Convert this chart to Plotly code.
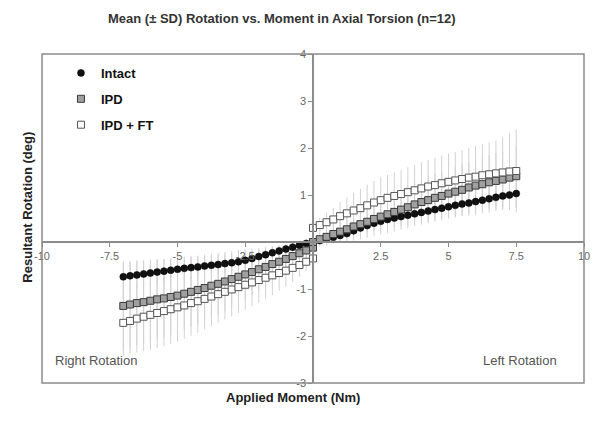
import plotly.graph_objects as go

# Applied moment (Nm): negative loading branch, then positive branch (0 appears twice)
MOMENT = [-7.0, -6.75, -6.5, -6.25, -6.0, -5.75, -5.5, -5.25, -5.0, -4.75,
          -4.5, -4.25, -4.0, -3.75, -3.5, -3.25, -3.0, -2.75, -2.5, -2.25,
          -2.0, -1.75, -1.5, -1.25, -1.0, -0.75, -0.5, -0.25, 0.0,
          0.0, 0.25, 0.5, 0.75, 1.0, 1.25, 1.5, 1.75, 2.0, 2.25,
          2.5, 2.75, 3.0, 3.25, 3.5, 3.75, 4.0, 4.25, 4.5, 4.75,
          5.0, 5.25, 5.5, 5.75, 6.0, 6.25, 6.5, 6.75, 7.0, 7.25, 7.5]

# mean rotation (deg)
INTACT = [-0.74, -0.72, -0.70, -0.68, -0.66, -0.64, -0.62, -0.60, -0.58, -0.56,
          -0.545, -0.53, -0.51, -0.495, -0.48, -0.46, -0.44, -0.42, -0.39, -0.35,
          -0.31, -0.27, -0.23, -0.19, -0.15, -0.11, -0.07, -0.03, 0.0,
          0.0, 0.03, 0.07, 0.10, 0.14, 0.18, 0.24, 0.30, 0.35, 0.40,
          0.44, 0.48, 0.51, 0.54, 0.57, 0.60, 0.63, 0.66, 0.69, 0.72,
          0.75, 0.78, 0.81, 0.83, 0.86, 0.89, 0.92, 0.95, 0.98, 1.00, 1.03]
IPD = [-1.36, -1.33, -1.30, -1.28, -1.25, -1.22, -1.20, -1.17, -1.14, -1.10,
       -1.06, -1.02, -0.98, -0.93, -0.89, -0.84, -0.79, -0.74, -0.69, -0.64,
       -0.58, -0.53, -0.47, -0.42, -0.36, -0.30, -0.24, -0.18, -0.12,
       0.00, 0.06, 0.11, 0.17, 0.22, 0.27, 0.33, 0.38, 0.43, 0.49,
       0.54, 0.59, 0.64, 0.69, 0.74, 0.80, 0.85, 0.89, 0.94, 0.98,
       1.03, 1.07, 1.11, 1.16, 1.20, 1.23, 1.27, 1.30, 1.33, 1.37, 1.40]
IPD_FT = [-1.72, -1.68, -1.63, -1.59, -1.55, -1.51, -1.47, -1.43, -1.39, -1.35,
          -1.30, -1.26, -1.21, -1.16, -1.11, -1.06, -1.01, -0.96, -0.91, -0.86,
          -0.81, -0.76, -0.71, -0.66, -0.61, -0.55, -0.49, -0.42, -0.35,
          0.30, 0.36, 0.42, 0.48, 0.55, 0.61, 0.67, 0.72, 0.78, 0.84,
          0.89, 0.94, 0.98, 1.02, 1.06, 1.10, 1.14, 1.18, 1.21, 1.25,
          1.28, 1.31, 1.34, 1.37, 1.39, 1.42, 1.44, 1.46, 1.48, 1.50, 1.51]

# standard deviations (deg)
INTACT_SD = [0.30, 0.29, 0.29, 0.28, 0.28, 0.27, 0.26, 0.26, 0.25, 0.24,
             0.24, 0.23, 0.22, 0.21, 0.21, 0.20, 0.19, 0.18, 0.17, 0.16,
             0.15, 0.14, 0.13, 0.12, 0.11, 0.10, 0.09, 0.08, 0.07,
             0.07, 0.08, 0.09, 0.10, 0.11, 0.12, 0.13, 0.14, 0.15, 0.16,
             0.17, 0.18, 0.19, 0.20, 0.21, 0.21, 0.22, 0.23, 0.24, 0.24,
             0.25, 0.26, 0.26, 0.27, 0.28, 0.28, 0.29, 0.29, 0.30, 0.30, 0.31]
IPD_SD = [0.95, 0.93, 0.91, 0.89, 0.87, 0.85, 0.83, 0.81, 0.79, 0.77,
          0.75, 0.73, 0.71, 0.68, 0.66, 0.63, 0.60, 0.57, 0.54, 0.50,
          0.46, 0.42, 0.38, 0.34, 0.30, 0.26, 0.22, 0.18, 0.14,
          0.12, 0.15, 0.18, 0.21, 0.24, 0.27, 0.30, 0.32, 0.34, 0.36,
          0.38, 0.40, 0.42, 0.43, 0.45, 0.46, 0.48, 0.49, 0.50, 0.51,
          0.52, 0.53, 0.54, 0.55, 0.56, 0.57, 0.58, 0.59, 0.60, 0.62, 0.64]
IPD_FT_SD = [0.70, 0.71, 0.72, 0.73, 0.74, 0.75, 0.75, 0.74, 0.73, 0.71,
             0.69, 0.67, 0.65, 0.63, 0.61, 0.59, 0.57, 0.55, 0.53, 0.51,
             0.48, 0.45, 0.42, 0.38, 0.34, 0.30, 0.25, 0.20, 0.15,
             0.10, 0.15, 0.20, 0.25, 0.30, 0.34, 0.38, 0.41, 0.44, 0.46,
             0.48, 0.49, 0.50, 0.51, 0.53, 0.54, 0.56, 0.57, 0.58, 0.59,
             0.60, 0.61, 0.62, 0.63, 0.65, 0.66, 0.68, 0.70, 0.75, 0.82, 0.88]

X_TICKS = [-10, -7.5, -5, -2.5, 2.5, 5, 7.5, 10]
X_TICK_TEXT = ["-10", "-7.5", "-5", "-2.5", "2.5", "5", "7.5", "10"]
Y_TICKS = [-3, -2, -1, 1, 2, 3, 4]
Y_TICK_TEXT = ["-3", "-2", "-1", "1", "2", "3", "4"]

FONT = "Arial, Liberation Sans, sans-serif"
AXIS_GRAY = "#8c8c8c"

fig = go.Figure()

# SD bars first so the markers sit on top of them
for ys, sd in [(INTACT, INTACT_SD), (IPD, IPD_SD), (IPD_FT, IPD_FT_SD)]:
    fig.add_trace(go.Scatter(
        x=MOMENT, y=ys, mode="markers",
        marker=dict(size=1, color="rgba(0,0,0,0)"),
        error_y=dict(type="data", array=sd, color="#d2d2d2", thickness=1, width=0),
        showlegend=False, hoverinfo="skip",
    ))

series = [
    ("Intact", INTACT, dict(symbol="circle", size=7, color="#111111",
                            line=dict(width=0.5, color="#000000"))),
    ("IPD", IPD, dict(symbol="square", size=7, color="#a0a0a0",
                      line=dict(width=1, color="#3a3a3a"))),
    ("IPD + FT", IPD_FT, dict(symbol="square", size=7, color="#ffffff",
                              line=dict(width=1, color="#555555"))),
]
for name, ys, mk in series:
    fig.add_trace(go.Scatter(
        x=MOMENT, y=ys, mode="markers", name=name, marker=mk,
        legendgroup=name,
    ))

axis_common = dict(
    showgrid=False, zeroline=False, showline=True,
    linecolor=AXIS_GRAY, linewidth=1.5,
    ticks="outside", ticklen=4, tickcolor=AXIS_GRAY, tickwidth=1,
    tickfont=dict(family=FONT, size=11, color="#666666"),
    anchor="free", ticklabeloverflow="allow",
)

# the page has an 8px body margin, so the figure is sized to fit the rest
fig.update_layout(
    width=594, height=422,
    margin=dict(l=34, r=14, t=46, b=47),
    paper_bgcolor="white", plot_bgcolor="white",
    title=dict(
        text="<b>Mean (± SD) Rotation vs. Moment in Axial Torsion (n=12)</b>",
        x=0.461, xanchor="center", y=0.976, yanchor="middle",
        font=dict(family=FONT, size=13, color="#333333"),
    ),
    xaxis=dict(range=[-10, 10], tickvals=X_TICKS, ticktext=X_TICK_TEXT,
               position=3 / 7, **axis_common),
    yaxis=dict(range=[-3, 4], tickvals=Y_TICKS, ticktext=Y_TICK_TEXT,
               position=0.5, **axis_common),
    legend=dict(
        x=0.035, y=0.988, xanchor="left", yanchor="top", itemwidth=30,
        bgcolor="rgba(0,0,0,0)", traceorder="grouped", tracegroupgap=6,
        font=dict(family=FONT, size=13, color="#111111", weight="bold"),
    ),
    shapes=[dict(type="rect", xref="paper", yref="paper", x0=0, x1=1, y0=0, y1=1,
                 line=dict(color=AXIS_GRAY, width=1.5), layer="above")],
    annotations=[
        dict(text="<b>Resultant Rotation (deg)</b>", xref="paper", yref="paper",
             x=-0.044, y=0.535, textangle=-90, showarrow=False,
             font=dict(family=FONT, size=13, color="#222222")),
        dict(text="<b>Applied Moment (Nm)</b>", xref="paper", yref="paper",
             x=0.463, y=-0.073, showarrow=False,
             font=dict(family=FONT, size=13, color="#222222")),
        dict(text="Right Rotation", xref="paper", yref="paper",
             x=0.02, y=0.04, xanchor="left", showarrow=False,
             font=dict(family=FONT, size=13, color="#555555")),
        dict(text="Left Rotation", xref="paper", yref="paper",
             x=0.954, y=0.04, xanchor="right", showarrow=False,
             font=dict(family=FONT, size=13, color="#555555")),
    ],
)

fig.write_html("out.html")
